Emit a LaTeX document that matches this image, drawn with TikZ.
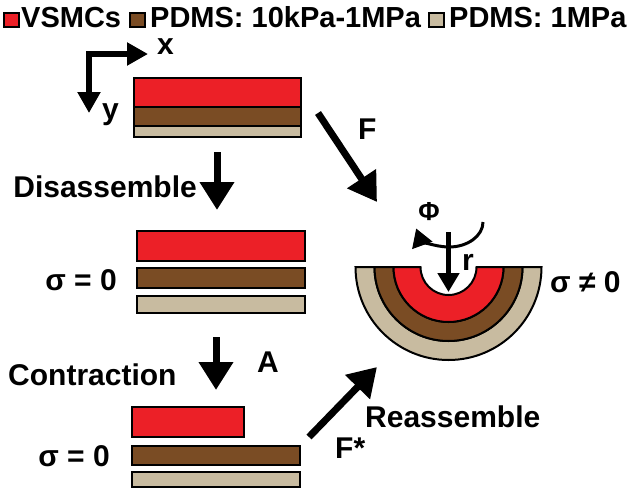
\documentclass[tikz,border=0pt]{standalone}
\usepackage{fontspec}
\setmainfont{Liberation Sans}
\usetikzlibrary{arrows.meta}
\definecolor{vsmc}{RGB}{236,32,39}
\definecolor{pdmssoft}{RGB}{122,76,36}
\definecolor{pdmsstiff}{RGB}{200,187,160}

\begin{document}
\begin{tikzpicture}[x=1pt,y=-1pt,
    txt/.style={inner sep=0pt,font=\fontsize{30}{32}\selectfont\bfseries},
    leg/.style={inner sep=0pt,font=\fontsize{29}{31}\selectfont\bfseries},
    layer/.style={line width=2pt,draw=black},
    bigarrow/.style={line width=7pt,-{Triangle[width=33pt,length=28pt]}},
    smallarrow/.style={line width=5pt,-{Triangle[width=21pt,length=19pt]}}]
    \useasboundingbox (0,0) rectangle (632,493);

    % legend
    \foreach \a/\col in {4/vsmc,130/pdmssoft,429/pdmsstiff}
        \filldraw[layer,fill=\col] (\a,13) rectangle (\a+15,27);
    \node[leg,anchor=base west] (lvsmc) at (21,27) {VSMCs};
    \node[leg,anchor=base west] (lsoft) at (150,27) {PDMS: 10kPa-1MPa};
    \node[leg,anchor=base west] (lstiff) at (449,27) {PDMS: 1MPa};

    % axes
    \coordinate (o) at (89,54);
    \coordinate (ax) at (148,54);
    \coordinate (ay) at (89,113);
    \draw[line width=6pt,line join=miter,{Triangle[width=22pt,length=21pt]}-{Triangle[width=22pt,length=21pt]}] (ax) -- (o) -- (ay);
    \node[txt,anchor=base west] (xlab) at (157,54) {x};
    \node[txt,anchor=base west] (ylab) at (102,119) {y};

    % layer stacks
    \foreach \a/\b/\c/\d/\col in {134/78/301/107/vsmc, 134/107/301/126/pdmssoft, 134/126/301/137/pdmsstiff,
                                  137/231/305/261/vsmc, 137/268/305/288/pdmssoft, 137/296/305/313/pdmsstiff,
                                  132/407/244/437/vsmc, 132/446/300/465/pdmssoft, 132/472/300/487/pdmsstiff}
        \filldraw[layer,fill=\col] (\a,\b) rectangle (\c,\d);

    % rolled vessel
    \foreach \ro/\ri/\col in {93/74/pdmsstiff, 74/55/pdmssoft, 55/28/vsmc}
        \filldraw[layer,fill=\col] ({448.5-\ro},267) arc[start angle=180,end angle=0,radius=\ro]
            -- ({448.5+\ri},267) arc[start angle=0,end angle=180,radius=\ri] -- cycle;

    \coordinate (r0) at (448.5,232);
    \coordinate (r1) at (448.5,292);
    \draw[smallarrow] (r0) -- (r1);
    \draw[line width=3pt,-{Triangle[width=21pt,length=18pt]}] (483,222) arc[start angle=0,end angle=165,x radius=34,y radius=25];
    \node[txt,font=\fontsize{26}{28}\selectfont\bfseries,anchor=base] (phi) at (429,220) {Φ};
    \node[txt,anchor=base west] (rlab) at (462,270) {r};

    % arrows between stages
    \coordinate (dis0) at (217,152);
    \coordinate (dis1) at (217,210);
    \coordinate (con0) at (216,337);
    \coordinate (con1) at (216,390);
    \coordinate (f0) at (318,113);
    \coordinate (f1) at (377,202);
    \coordinate (re0) at (309,437);
    \coordinate (re1) at (377,367);
    \draw[bigarrow] (dis0) -- (dis1);
    \draw[bigarrow] (con0) -- (con1);
    \draw[bigarrow] (f0) -- (f1);
    \draw[bigarrow] (re0) -- (re1);

    % labels
    \node[txt,anchor=base west] (flab) at (358,139) {F};
    \node[txt,anchor=base east] (dis) at (197,197) {Disassemble};
    \node[txt,anchor=base east] (s1) at (117,290) {σ = 0};
    \node[txt,anchor=base west] (con) at (8,385) {Contraction};
    \node[txt,anchor=base west] (alab) at (257,372) {A};
    \node[txt,anchor=base east] (s2) at (110,466) {σ = 0};
    \node[txt,anchor=base west] (fstar) at (335,458) {F*};
    \node[txt,anchor=base west] (re) at (365,427) {Reassemble};
    \node[txt,anchor=base west] (s3) at (550,292) {σ ≠ 0};
\end{tikzpicture}
\end{document}
